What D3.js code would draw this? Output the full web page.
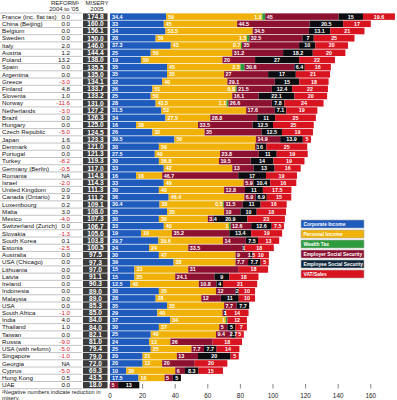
<!DOCTYPE html>
<html><head><meta charset="utf-8">
<script src="https://cdn.jsdelivr.net/npm/d3@7"></script>
<style>body{margin:0;background:#fff}svg{display:block}text{font-family:"Liberation Sans",Arial,sans-serif}</style>
</head><body><svg id="c" width="397" height="400"></svg>
<script>
const countries = ["France (inc. flat tax)","China (Beijing)","Belgium","Sweden","Italy","Austria","Poland","Spain","Argentina","Greece","Finland","Slovenia","Norway","Netherlands","Brazil","Hungary","Czech Republic","Japan","Denmark","Portugal","Turkey","Germany (Berlin)","Romania","Israel","United Kingdom","Canada (Ontario)","Luxembourg","Malta","Mexico","Switzerland (Zurich)","Slovakia","South Korea","Estonia","Australia","USA (Chicago)","Lithuania","Latvia","Ireland","Indonesia","Malaysia","USA","South Africa","India","Thailand","Taiwan","Russia","USA (with reform)","Singapore","Georgia","Cyprus","Hong Kong","UAE"];
const reform = ["0.0","0.0","0.0","0.0","2.0","1.2","13.2","0.0","0.0","-3.0","4.8","1.0","-11.6","-3.0","0.0","0.0","-5.0","1.6","0.0","0.0","-8.2","-0.5","NA","-2.0","0.0","2.9","0.2","3.0","-4.0","0.0","-1.3","0.1","-2.5","0.0","0.0","0.0","0.0","0.0","0.0","0.0","0.0","-1.0","4.0","1.0","0.0","-9.0","-5.0","-1.0","NA","-5.0","0.5","0.0"];
const misery = [174.8,160.0,156.1,150.0,146.0,144.4,138.0,135.5,135.0,134.1,133.7,133.2,131.0,127.2,126.3,125.0,124.5,123.3,121.0,121.3,119.3,117.0,114.8,114.3,111.3,111.2,109.1,108.0,107.3,106.7,105.6,103.8,100.5,97.5,97.3,97.0,91.1,90.3,89.0,89.0,85.3,85.0,84.0,84.0,82.1,81.0,79.4,79.0,72.0,69.3,43.5,18.0];
const corporate = [34.4,33,34,28,37.3,25,19,35,35,32,26,25,28,31.5,34,16,26,39.5,30,27.5,30,33,16,33,30,36,30.4,35,30,33,19,29.7,24,30,39,15,15,12.5,30,28,35,29,37,30,25,24,25,20,20,10,17.5,0];
const personal = [59,45,53.5,56,43,50,50,45,35,40,51,50,43.5,52,27.5,38,32,50,59,40,36.8,42,16,49,40,46.4,39,35,30,40,19,39.6,24,47,38,33,25,42,35,28,35,40,34,37,40,13,25,21,12,30,16,0];
const wealth = [1.8,0,0,1.5,0.7,0,0,2.5,0,0,0.8,0,1.1,0,0,0,0,0,0,0,0,0,0,0,0,0,0.5,0,0,1,0,0,0,0,0,0,0,0,0,0,0,0,1,0,0,0,0,0,0,0,0,0];
const employerSS = [45,44.5,34.5,32.5,35,31.2,20,30.6,27,29.1,21.5,16.1,26.6,17.6,28.8,33.5,35,14.9,1,23.8,19.5,13,46.7,5.9,12.8,6.9,11.5,10,3.4,12.6,35.2,14,33.5,9,7.7,31,24.1,10.8,12,12,7.7,1,0,5,9.4,26,7.7,13,20,6,5,5];
const employeeSS = [15,20.5,13.1,7,10,18.2,27,6.4,17,15,12.4,22.1,7.8,7.1,11,12.5,12.5,13.9,6,11,14,13,17,10.4,11,6.9,11,10,20.9,12.6,13.4,7.5,1,1.5,7.7,0,9,4,2,11,7.7,1,0,5,2.7,0,7.7,20,0,8.3,5,13];
const vat = [19.6,17,21,25,20,20,22,16,21,18,22,20,24,19,25,25,19,5,25,19,19,16,19,16,17.5,15,16,18,23,7.5,19,13,18,10,5,18,18,21,10,10,0,14,12,7,5,18,14,5,20,15,0,0];
const xTicks = [0,20,40,60,80,100,120,140,160];
const seriesNames = ["Corporate Income","Personal Income","Wealth Tax","Employer Social Security","Employee Social Security","VAT/Sales"];

const barColors = ["#1f5bbd","#f0b208","#2e9c3c","#8c1030","#0c0c10","#d7141f"];
const legendColors = ["#1f5bbd","#f0b208","#2e9c3c","#8c1030","#10283e","#d7141f"];
const seriesData = [corporate, personal, wealth, employerSS, employeeSS, vat];

const svg = d3.select("#c");
const x = d3.scaleLinear().domain([0,160]).range([110, 370.8]);
const y = d3.scaleBand().domain(countries).range([13, 388.7]).paddingInner(0.1).paddingOuter(0.05);
const bh = y.bandwidth();

// header
const hdr = svg.append("g").attr("font-size", 6).attr("fill", "#222").attr("text-anchor", "middle");
hdr.append("text").attr("x", 65).attr("y", 5.2).text("REFORM¹");
hdr.append("text").attr("x", 64).attr("y", 11.4).text("2004 to '05");
hdr.append("text").attr("x", 97).attr("y", 5.2).text("MISERY");
hdr.append("text").attr("x", 97).attr("y", 11.4).text("2005");

// row separators
const step = y.step();
svg.append("g").selectAll("line").data(countries).join("line")
  .attr("x1", 0).attr("x2", 82)
  .attr("y1", d => y(d) + bh + (step - bh) / 2).attr("y2", d => y(d) + bh + (step - bh) / 2)
  .attr("stroke", "#9a9a9a").attr("stroke-width", 0.6);
svg.append("line").attr("x1",0).attr("x2",82).attr("y1",y(countries[0]) - (step-bh)/2).attr("y2",y(countries[0]) - (step-bh)/2).attr("stroke","#9a9a9a").attr("stroke-width",0.6);

// country names
svg.append("g").selectAll("text").data(countries).join("text")
  .attr("x", 2).attr("y", d => y(d) + bh / 2).attr("dy", "0.35em")
  .attr("font-size", 6.2).attr("fill", "#111").text(d => d);

// reform values
svg.append("g").selectAll("text").data(reform).join("text")
  .attr("x", 70).attr("y", (d, i) => y(countries[i]) + bh / 2).attr("dy", "0.35em")
  .attr("text-anchor", "end").attr("font-size", 6.2)
  .attr("fill", d => d.startsWith("-") ? "#d7141f" : "#111").text(d => d);

// misery cells
const mg = svg.append("g");
mg.selectAll("rect").data(misery).join("rect")
  .attr("x", 83).attr("width", 24.5)
  .attr("y", (d, i) => y(countries[i])).attr("height", bh)
  .attr("fill", "#3b3b3b");
mg.selectAll("text").data(misery).join("text")
  .attr("x", 95.5).attr("y", (d, i) => y(countries[i]) + bh / 2).attr("dy", "0.36em")
  .attr("text-anchor", "middle").attr("font-size", 6.6).attr("font-weight", "bold")
  .attr("fill", "#fff").text(d => d3.format(".1f")(d));

// stacked bars
const rows = countries.map((c, i) => {
  let acc = 0;
  return seriesData.map((s, k) => {
    const v = s[i];
    const seg = { c, k, v, x0: acc, x1: acc + v };
    acc += v;
    return seg;
  }).filter(s => s.v > 0);
});
const segs = rows.flat();

// axis (drawn first so bars cover the 0 tick)
const ax = svg.append("g");
ax.selectAll("line").data(xTicks).join("line")
  .attr("x1", d => x(d)).attr("x2", d => x(d)).attr("y1", 384).attr("y2", 388.5)
  .attr("stroke", "#333").attr("stroke-width", 0.6);
ax.selectAll("text").data(xTicks).join("text")
  .attr("x", d => x(d)).attr("y", 397.5).attr("text-anchor", "middle")
  .attr("font-size", 6.4).attr("fill", "#222").text(d => d);

const bars = svg.append("g");
bars.selectAll("rect").data(segs).join("rect")
  .attr("x", d => x(d.x0)).attr("width", d => x(d.x1) - x(d.x0))
  .attr("y", d => y(d.c)).attr("height", bh)
  .attr("fill", d => barColors[d.k]);

bars.selectAll("text").data(segs).join("text")
  .attr("x", d => {
    if (d.k === 2) return x(d.x0) - 0.4;
    if (d.k <= 1) return x(d.x0) + 2;
    if (d.k === 3) return x(d.x0) + 1.5;
    return (x(d.x0) + x(d.x1)) / 2;
  })
  .attr("text-anchor", d => d.k === 2 ? "end" : (d.k <= 1 || d.k === 3) ? "start" : "middle")
  .attr("y", d => y(d.c) + bh / 2).attr("dy", "0.36em")
  .attr("font-size", 5.4).attr("font-weight", "bold").attr("fill", "#fff")
  .text(d => String(d.v));

// footnote
const fn = svg.append("g").attr("font-size", 5.6).attr("fill", "#222");
fn.append("text").attr("x", 2).attr("y", 393.5).text("¹Negative numbers indicate reduction in");
fn.append("text").attr("x", 2).attr("y", 399.5).text("misery.");

// legend
const lg = svg.append("g").attr("transform", "translate(301,220)");
const li = lg.selectAll("g").data(seriesNames).join("g").attr("transform", (d, i) => `translate(0,${i * 10})`);
li.append("rect").attr("width", 63).attr("height", 8)
  .attr("fill", (d, i) => legendColors[i]).attr("stroke", "#aaa").attr("stroke-width", 0.6);
li.append("text").attr("x", 2.5).attr("y", 4).attr("dy", "0.36em")
  .attr("font-size", 4.9).attr("font-weight", "bold").attr("fill", "#fff").text(d => d);
</script></body></html>
